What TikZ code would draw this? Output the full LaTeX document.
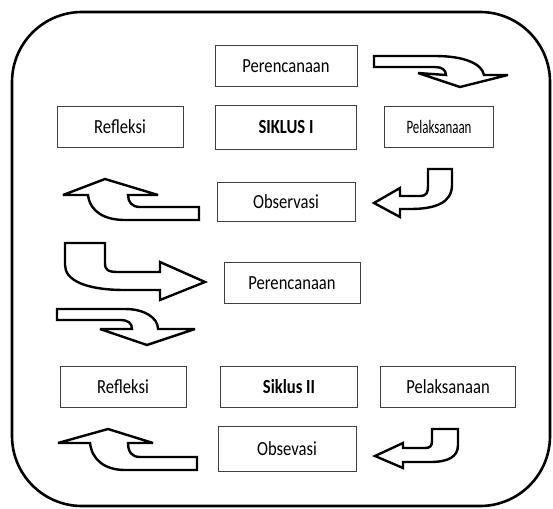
\documentclass[tikz,border=0pt]{standalone}
\usepackage{fontspec}
\setmainfont{Carlito}[FakeStretch=0.83]
\newfontfamily\narrowfont{Carlito}[FakeStretch=0.68]
\usepackage{tikz}
\tikzstyle{stage} = [rectangle, draw=black!75, line width=0.8pt, minimum height=41pt, text centered, inner sep=0pt, font=\fontsize{20}{24}\selectfont]
\tikzstyle{siklus} = [stage, font=\fontsize{20}{24}\selectfont\bfseries]
\tikzstyle{bent} = [draw, line width=2.4pt, fill=white, miter limit=4]

\begin{document}
\begin{tikzpicture}[x=1pt, y=-1pt]
    \useasboundingbox (0,0) rectangle (553,508);

        % frame
        \draw [line width=2.6pt, rounded corners=70pt] (12,12) rectangle (550,506);

        % nodes
        \node (planA) [stage, minimum width=142pt] at (286,66) {Perencanaan};
        \node (siklusA) [siklus, below of=planA, node distance=61pt, minimum width=141pt, minimum height=44pt] {SIKLUS I};
        \node (refA) [stage, left of=siklusA, node distance=166pt, minimum width=126pt] {Refleksi};
        \node (pelA) [stage, right of=siklusA, node distance=153pt, minimum width=109pt, font=\fontsize{19}{23}\selectfont\narrowfont] {Pelaksanaan};
        \node (obsA) [stage, below of=siklusA, node distance=75pt, minimum width=138pt, minimum height=39pt] {Observasi};
        \node (planB) [stage, below of=obsA, node distance=81pt, xshift=6pt, minimum width=136pt] {Perencanaan};
        \node (siklusB) [siklus, below of=planB, node distance=104pt, xshift=-3pt, minimum width=137pt] {Siklus II};
        \node (refB) [stage, left of=siklusB, node distance=166pt, minimum width=126pt] {Refleksi};
        \node (pelB) [stage, right of=siklusB, node distance=159pt, minimum width=135pt] {Pelaksanaan};
        \node (obsB) [stage, below of=siklusB, node distance=62pt, xshift=-2pt, minimum width=138pt, minimum height=45pt] {Obsevasi};

        % arrows
        \draw [bent] (374,56) -- (435,56) .. controls (465,56) and (482,64) .. (484,75) -- (508,75) -- (460,87) -- (418,73) -- (446,75) .. controls (446,70) and (442,67) .. (435,67) -- (374,67) -- cycle;
        \draw [bent] (428,169) -- (452,169) -- (452,185) .. controls (452,203) and (435,209) .. (410,209) -- (400,209) -- (400,217) -- (374,203) -- (400,188) -- (400,196) -- (420,196) .. controls (427,196) and (428,192) .. (428,186) -- cycle;
        \draw [bent] (199,207) -- (140,207) .. controls (132,207) and (128,202) .. (128,195) -- (158,195) -- (105,179) -- (63,195) -- (88,195) .. controls (90,212) and (105,220) .. (125,220) -- (199,220) -- cycle;
        \draw [bent] (65,243) -- (105,243) -- (105,263) .. controls (105,270) and (108,272) .. (118,272) -- (160,272) -- (160,262) -- (205,282) -- (160,300) -- (160,290) -- (125,290) .. controls (85,290) and (65,280) .. (65,265) -- cycle;
        \draw [bent] (57,309) -- (125,309) .. controls (145,309) and (158,318) .. (158,329) -- (195,329) -- (147,345) -- (100,329) -- (132,329) .. controls (132,323) and (128,320) .. (120,320) -- (57,320) -- cycle;
        \draw [bent] (432,429) -- (458,429) -- (458,445) .. controls (458,457) and (448,462) .. (430,462) -- (403,462) -- (403,468) -- (375,456) -- (403,443) -- (403,448) -- (425,448) .. controls (430,448) and (432,446) .. (432,441) -- cycle;
        \draw [bent] (197,457) -- (140,457) .. controls (132,457) and (128,452) .. (128,443) -- (153,443) -- (108,429) -- (58,443) -- (90,443) .. controls (92,460) and (105,470) .. (125,470) -- (197,470) -- cycle;

    \end{tikzpicture}
\end{document}
